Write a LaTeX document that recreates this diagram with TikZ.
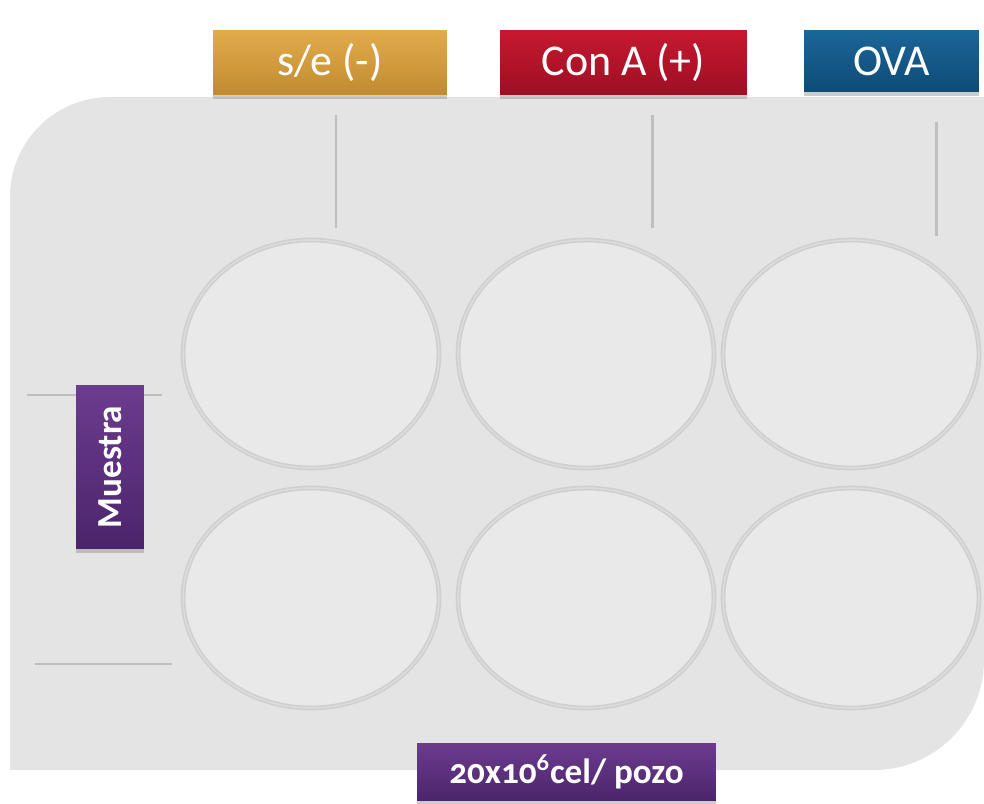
\documentclass[tikz,border=0pt]{standalone}
\usepackage{fontspec}
\setmainfont[Numbers=OldStyle]{Carlito}
\usetikzlibrary{positioning,shapes.geometric,shadows}
\definecolor{Plate}{HTML}{E4E4E4}
\definecolor{Ring}{HTML}{CFCFCF}
\definecolor{RingIn}{HTML}{DCDCDC}
\definecolor{Mark}{HTML}{BEBEBE}
\definecolor{GoldTop}{HTML}{E2AC4C}
\definecolor{GoldBot}{HTML}{C08A30}
\definecolor{RedTop}{HTML}{C8182F}
\definecolor{RedBot}{HTML}{9C0F24}
\definecolor{BlueTop}{HTML}{1B6699}
\definecolor{BlueBot}{HTML}{0E4B76}
\definecolor{PurpleA}{HTML}{6C3C8E}
\definecolor{PurpleB}{HTML}{4B246C}
\tikzset{
  headbox/.style={
    rectangle, text=white, inner sep=0pt, minimum height=1.3cm,
    font=\fontsize{25}{30}\selectfont,
    drop shadow={opacity=0.4, shadow xshift=0pt, shadow yshift=-2.5pt}
  },
  tagbox/.style={
    rectangle, text=white, inner sep=0pt, font=\bfseries\fontsize{20}{24}\selectfont,
    drop shadow={opacity=0.4, shadow xshift=0pt, shadow yshift=-2.5pt}
  },
  well/.style={
    ellipse, inner sep=0pt, minimum width=5.12cm, minimum height=4.56cm,
    draw=Ring, line width=0.9pt, double=RingIn, double distance=0.9pt, fill=Plate!80!white
  },
  markline/.style={Mark, line width=1.7pt},
}

\begin{document}
\begin{tikzpicture}[x=0.02cm, y=-0.02cm]
    \useasboundingbox (0,0) rectangle (984,804);
    % plate
    \fill[Plate] (10,770) -- (10,400) [rounded corners=2cm] -- (10,97) -- (500,97) [sharp corners] -- (984,97) -- (984,400) [rounded corners=2.2cm] -- (984,770) -- (500,770) [sharp corners] -- cycle;
    % marks on the plate
    \draw[markline] (336,115) -- (336,228);
    \draw[markline] (652,115) -- (652,228);
    \draw[markline] (936,122) -- (936,236);
    \draw[markline] (27,395) -- (162,395);
    \draw[markline] (35,664) -- (172,664);
    % wells
    \foreach \c/\x in {1/311,2/586,3/851} {
      \node[well] (w1\c) at (\x,354) {};
      \node[well, minimum height=4.4cm] (w2\c) at (\x,598) {};
    }
    % labels
    \node[headbox, minimum width=4.68cm, top color=GoldTop, bottom color=GoldBot] (se) at (330,62.5) {s/e (-)};
    \node[headbox, minimum width=4.94cm, top color=RedTop, bottom color=RedBot] (cona) at (623.5,62.5) {Con A (+)};
    \node[headbox, minimum width=3.5cm, minimum height=1.24cm, top color=BlueTop, bottom color=BlueBot] (ova) at (891.5,61) {OVA};
    \node[tagbox, rotate=90, minimum width=3.28cm, minimum height=1.36cm, top color=PurpleA, bottom color=PurpleB] (muestra) at (110,467) {Muestra};
    \node[tagbox, minimum width=5.98cm, minimum height=1.16cm, top color=PurpleA, bottom color=PurpleB] (pozo) at (566.5,772) {20x10\textsuperscript{6}cel/ pozo};
\end{tikzpicture}
\end{document}
